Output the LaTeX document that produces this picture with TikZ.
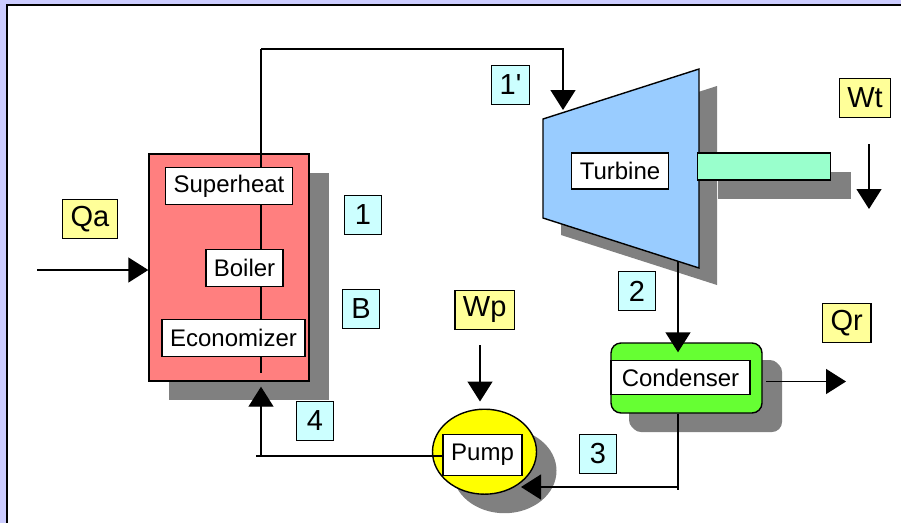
\documentclass[tikz,border=0pt]{standalone}
\usepackage{fontspec}
\setmainfont{Liberation Sans}
\usetikzlibrary{arrows.meta,positioning,shadows,shapes.geometric}
\definecolor{Lav}{HTML}{CCCCFF}
\definecolor{Shade}{HTML}{808080}
\definecolor{BoilerF}{HTML}{FF7F7F}
\definecolor{TurbF}{HTML}{99CCFF}
\definecolor{ShaftF}{HTML}{99FFCC}
\definecolor{CondF}{HTML}{66FF33}
\definecolor{PumpF}{HTML}{FFFF00}
\definecolor{EnF}{HTML}{FFFF99}
\definecolor{StF}{HTML}{CCFFFF}

\begin{document}
\begin{tikzpicture}[x=1pt,y=-1pt,line width=1.4pt,
    shd/.style={drop shadow={shadow xshift=20pt,shadow yshift=-19pt,fill=Shade,opacity=1}},
    unit/.style={draw,inner sep=0pt,shd},
    lbl/.style={draw,fill=white,inner xsep=8pt,inner ysep=0pt,minimum height=37pt,
      font=\fontsize{24}{28}\selectfont},
    tag/.style={draw,inner xsep=8pt,inner ysep=0pt,minimum height=39pt,minimum width=37pt,
      font=\fontsize{29}{32}\selectfont},
    en/.style={tag,fill=EnF},
    st/.style={tag,fill=StF},
    flow/.style={-{Triangle[length=20pt,width=25pt]}}]
  % frame
  \useasboundingbox (0,0) rectangle (901,523);
  \fill[Lav] (0,0) rectangle (901,523);
  \fill[white] (7,5) rectangle (901,523);
  \draw[line width=2pt] (901,5) -- (7,5) -- (7,523);

  % boiler
  \node[unit,fill=BoilerF,minimum width=160pt,minimum height=227pt] (boiler) at (229,267.5) {};
  \node[lbl] (sup) at (229,186) {Superheat};
  \node[lbl] (boil) at (244.5,268) {Boiler};
  \node[lbl] (eco) at (233.5,338) {Economizer};

  % turbine
  \coordinate (tA) at (543,119);
  \coordinate (tB) at (699,69);
  \coordinate (tC) at (699,268);
  \coordinate (tD) at (543,218);
  \draw[fill=TurbF,drop shadow={shadow xshift=18pt,shadow yshift=-17pt,fill=Shade,opacity=1}]
    (tA) -- (tB) -- (tC) -- (tD) -- cycle;
  \node[unit,fill=ShaftF,minimum width=133pt,minimum height=27pt] (shaft) at (764,166.5) {};
  \node[lbl,minimum height=36pt] (turb) at (620,171) {Turbine};

  % condenser and pump
  \node[unit,fill=CondF,rounded corners=10pt,minimum width=151pt,minimum height=70pt,
    drop shadow={shadow xshift=18pt,shadow yshift=-17pt,fill=Shade,opacity=1}] (cond) at (686.5,378) {};
  \node[lbl,minimum height=34pt,minimum width=139pt] (condl) at (680.5,377.5) {Condenser};
  \node[unit,ellipse,fill=PumpF,minimum width=104pt,minimum height=85pt] (pump) at (484.5,451.7) {};
  \node[lbl,minimum height=41pt] (pumpl) at (482.5,455) {Pump};

  % energy and state tags
  \node[en] (Qa) at (90,219) {Qa};
  \node[en] (Wt) at (865,98) {Wt};
  \node[en] (Wp) at (484.7,309.7) {Wp};
  \node[en] (Qr) at (846.7,323) {Qr};
  \node[st] (s1p) at (510.5,85) {1\textquotesingle};
  \node[st] (s1) at (363,215) {1};
  \node[st] (sB) at (361,309) {B};
  \node[st] (s4) at (315,421) {4};
  \node[st] (s2) at (637,291) {2};
  \node[st] (s3) at (598,453.7) {3};

  % steam line through the boiler
  \coordinate (riser) at (261,49);
  \coordinate (tin) at (563,110);
  \draw (riser) -- (riser |- sup.north);
  \draw (riser |- sup.south) -- (riser |- boil.north);
  \draw (riser |- boil.south) -- (riser |- eco.north);
  \draw (riser |- eco.south) -- ++(0,16);
  \draw[flow] (riser) -- (riser -| tin) -- (tin);

  % turbine exhaust to condenser
  \coordinate (tout) at (678,261);
  \draw[flow] (tout) -- ([yshift=-10pt]cond.north -| tout);

  % condensate to pump
  \coordinate (c3) at (678,487);
  \coordinate (ptip) at (521,487);
  \draw (cond.south -| c3) -- ([yshift=-3pt]c3);
  \draw[flow] (c3) -- (ptip);

  % feed water to boiler
  \coordinate (c4) at (261,456);
  \draw (pumpl.west |- c4) -- ([xshift=-5pt]c4);
  \draw[flow] (c4) -- ([yshift=-5pt]boiler.south -| c4);

  % heat and work arrows
  \coordinate (qa0) at (37,270);
  \draw[flow] (qa0) -- (qa0 -| boiler.west);
  \coordinate (qr0) at (766,381.5);
  \coordinate (qr1) at (846,381.5);
  \draw[flow] (qr0) -- (qr1);
  \coordinate (wp0) at (480,345);
  \draw[flow] (wp0) -- ([yshift=7pt]wp0 |- pump.north);
  \coordinate (wt0) at (869,144);
  \coordinate (wt1) at (869,209);
  \draw[flow] (wt0) -- (wt1);
\end{tikzpicture}
\end{document}
